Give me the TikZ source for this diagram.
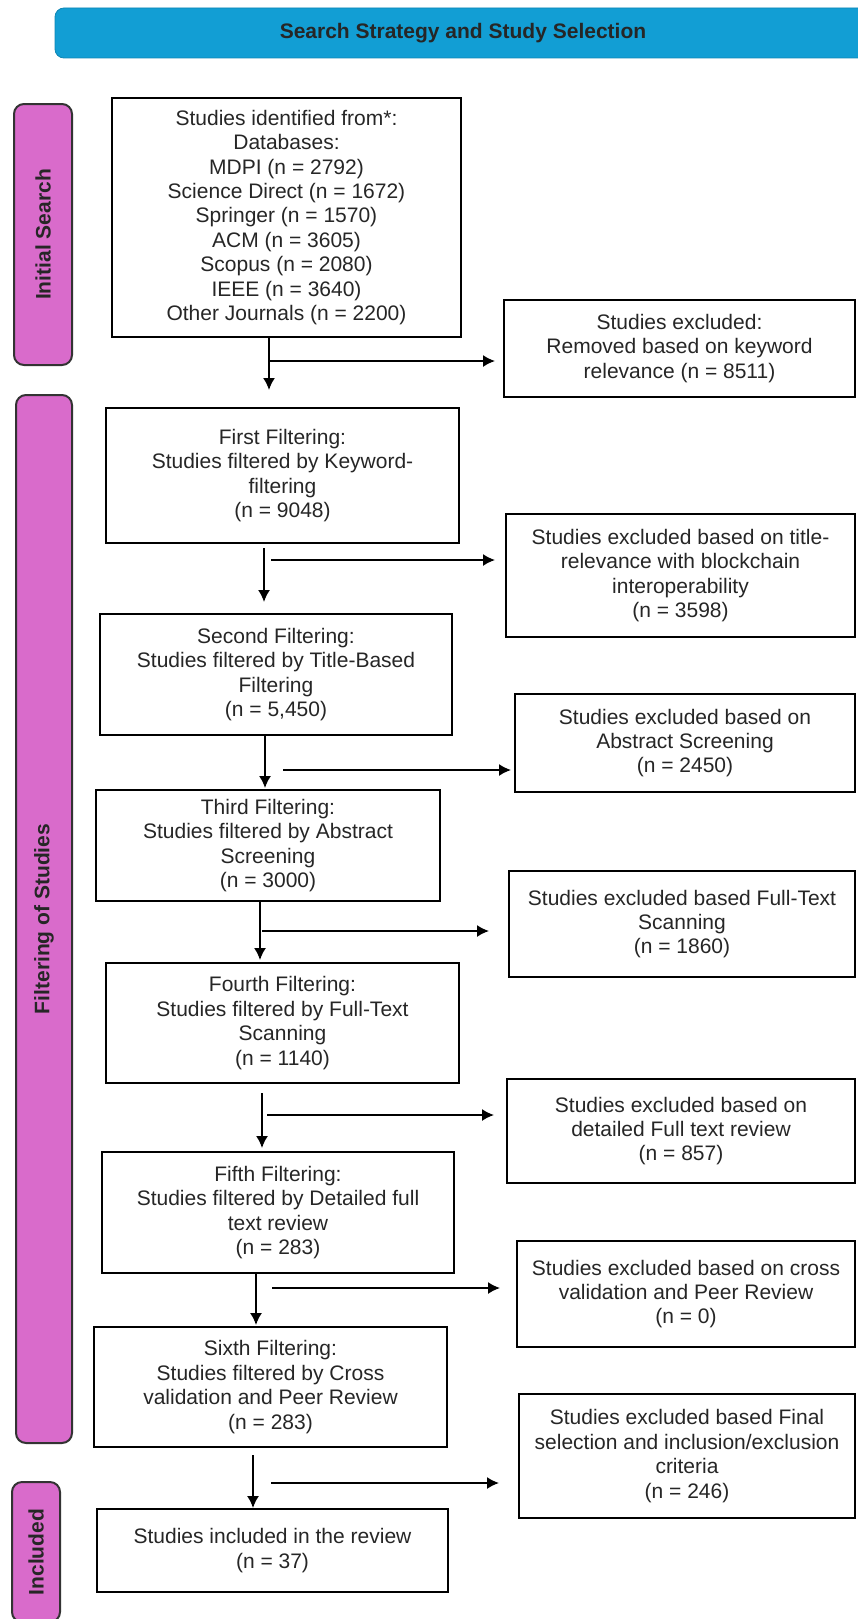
\documentclass[tikz,border=0pt]{standalone}
\usepackage{fontspec}
\setmainfont{Liberation Sans}
\usetikzlibrary{arrows.meta}

\definecolor{bannerblue}{RGB}{18,158,212}
\definecolor{stagepink}{RGB}{217,107,203}

\begin{document}
\begin{tikzpicture}[x=1pt, y=-1pt,
                    box/.style={draw, line width=1.4pt, fill=white, inner sep=0pt, outer sep=0pt, align=center,
                                text=black!85, font=\fontsize{21}{24.4}\selectfont},
                    stage/.style={draw=black!80, line width=2pt, fill=stagepink, rounded corners=10pt, rotate=90,
                                  inner sep=0pt, text=black!85, font=\fontsize{21}{24}\selectfont\bfseries},
                    banner/.style={draw=bannerblue!85!black, line width=0.8pt, fill=bannerblue, rounded corners=9pt,
                                   inner sep=0pt, text=black!85, font=\fontsize{21}{24}\selectfont\bfseries},
                    arr/.style={-{Latex[length=12pt, width=12pt]}, line width=1.6pt}]
                \useasboundingbox (0,0) rectangle (857,1619);
                \node[banner, minimum width=816pt, minimum height=50pt] (title) at (463,33) {Search Strategy and Study Selection};
                \node[stage, minimum width=261pt, minimum height=58pt] (initial) at (43,234.5) {Initial Search};
                \node[stage, minimum width=1048pt, minimum height=56pt] (filtering) at (44,919) {Filtering of Studies};
                \node[stage, minimum width=140pt, minimum height=48pt] (included) at (36,1552) {Included};

                \node[box, minimum width=349pt, minimum height=239pt] (s0) at (286.5,217.5)
                {Studies identified from*:\\Databases:\\MDPI (n = 2792)\\Science Direct (n = 1672)\\Springer (n = 1570)\\
                 ACM (n = 3605)\\Scopus (n = 2080)\\IEEE (n = 3640)\\Other Journals (n = 2200)};
                \node[box, minimum width=353pt, minimum height=135pt] (f1) at (282.5,475.5)
                {First Filtering:\\Studies filtered by Keyword-\\filtering\\(n = 9048)};
                \node[box, minimum width=352pt, minimum height=121pt] (f2) at (276,674.5)
                {Second Filtering:\\Studies filtered by Title-Based\\Filtering\\(n = 5,450)};
                \node[box, minimum width=344pt, minimum height=111pt] (f3) at (268,845.5)
                {Third Filtering:\\Studies filtered by Abstract\\Screening\\(n = 3000)};
                \node[box, minimum width=353pt, minimum height=120pt] (f4) at (282.5,1023)
                {Fourth Filtering:\\Studies filtered by Full-Text\\Scanning\\(n = 1140)};
                \node[box, minimum width=352pt, minimum height=121pt] (f5) at (278,1212.5)
                {Fifth Filtering:\\Studies filtered by Detailed full\\text review\\(n = 283)};
                \node[box, minimum width=353pt, minimum height=120pt] (f6) at (270.5,1387)
                {Sixth Filtering:\\Studies filtered by Cross\\validation and Peer Review\\(n = 283)};
                \node[box, minimum width=351pt, minimum height=83pt] (inc) at (272.5,1550.5)
                {Studies included in the review\\(n = 37)};

                \node[box, minimum width=351pt, minimum height=97pt] (x1) at (679.5,348.5)
                {Studies excluded:\\Removed based on keyword\\relevance (n = 8511)};
                \node[box, minimum width=349pt, minimum height=123pt] (x2) at (680.5,575.5)
                {Studies excluded based on title-\\relevance with blockchain\\interoperability\\(n = 3598)};
                \node[box, minimum width=340pt, minimum height=98pt] (x3) at (685,743)
                {Studies excluded based on\\Abstract Screening\\(n = 2450)};
                \node[box, minimum width=346pt, minimum height=106pt] (x4) at (682,924)
                {Studies excluded based Full-Text\\Scanning\\(n = 1860)};
                \node[box, minimum width=348pt, minimum height=104pt] (x5) at (681,1131)
                {Studies excluded based on\\detailed Full text review\\(n = 857)};
                \node[box, minimum width=338pt, minimum height=106pt] (x6) at (686,1294)
                {Studies excluded based on cross\\validation and Peer Review\\(n = 0)};
                \node[box, minimum width=336pt, minimum height=124pt] (x7) at (687,1456)
                {Studies excluded based Final\\selection and inclusion/exclusion\\criteria\\(n = 246)};

                \foreach \n/\t/\e/\x/\ya/\xh/\yh/\gv/\gh in {1/f1/x1/269/337/269/361/18/9,
                                                           2/f2/x2/264/548/271/560/12/11,
                                                           3/f3/x3/265/735/283/770/2/4,
                                                           4/f4/x4/260/901/262/931/3/20,
                                                           5/f5/x5/262/1093/267/1115/4/13,
                                                           6/f6/x6/256/1272/272/1288/2/17,
                                                           7/inc/x7/253/1455/271/1483/1/20}{
                        \coordinate (d\n) at (\x,\ya);
                        \coordinate (r\n) at (\xh,\yh);
                        \draw[arr, shorten >=\gv pt] (d\n) -- (d\n |- \t.north);
                        \draw[arr, shorten >=\gh pt] (r\n) -- (r\n -| \e.west);
                    }
            \end{tikzpicture}
\end{document}
